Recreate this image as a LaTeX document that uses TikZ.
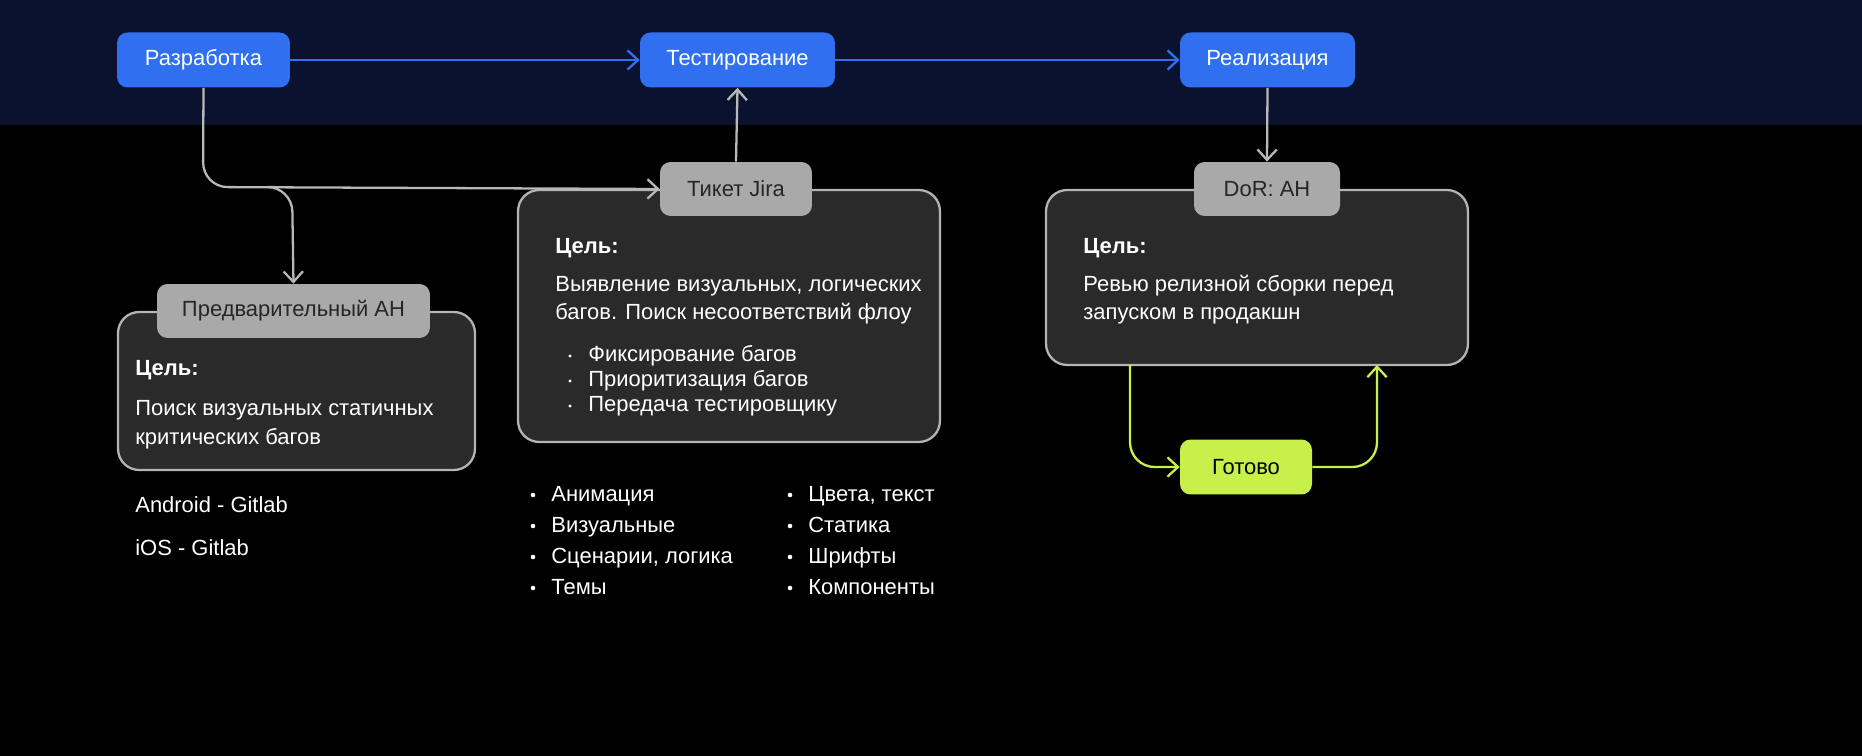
\documentclass[tikz,border=0pt]{standalone}
\usepackage{fontspec}
\setmainfont{Liberation Sans}
\usetikzlibrary{arrows.meta}
\definecolor{navy}{HTML}{0B1230}
\definecolor{blu}{HTML}{2F6FF0}
\definecolor{boxf}{HTML}{2A2A2A}
\definecolor{boxs}{HTML}{B4B4B4}
\definecolor{tab}{HTML}{A9A9A9}
\definecolor{lime}{HTML}{C8F04A}
\definecolor{gline}{HTML}{B8B8B8}
\begin{document}
\begin{tikzpicture}[x=0.02cm,y=-0.02cm,
  txt/.style={font=\fontsize{12.5}{15}\selectfont,text=white,inner sep=0pt,anchor=base west},
  bld/.style={txt,font=\fontsize{12.5}{15}\selectfont\bfseries},
  blue/.style={fill=blu,rounded corners=6pt,text=white,font=\fontsize{12.5}{15}\selectfont,minimum height=1.1cm},
  tabn/.style={fill=tab,rounded corners=6pt,text=black!85,font=\fontsize{12.5}{15}\selectfont,minimum height=1.08cm},
  box/.style={fill=boxf,draw=boxs,line width=1.3pt,rounded corners=12pt},
  bar/.style={blu,line width=1.3pt,-{Straight Barb[length=6pt,width=11pt]}},
  gar/.style={gline,line width=1.3pt,rounded corners=14pt,-{Straight Barb[length=6pt,width=11pt]}},
  lar/.style={lime,line width=1.3pt,rounded corners=14pt,-{Straight Barb[length=6pt,width=11pt]}},
  bul/.style={txt,text=white}]
\fill[black] (0,0) rectangle (1862,756);
\fill[navy] (0,0) rectangle (1862,125);
\useasboundingbox (0,0) rectangle (1862,756);
% top nodes
\node[blue,minimum width=3.46cm] (razr) at (203.5,60) {Разработка};
\node[blue,minimum width=3.9cm] (test) at (737.5,60) {Тестирование};
\node[blue,minimum width=3.5cm] (real) at (1267.5,60) {Реализация};
\draw[bar] (razr.east) -- (test.west);
\draw[bar] (test.east) -- (real.west);
% boxes
\node[box,minimum width=7.14cm,minimum height=3.16cm] (b1) at (296.5,391) {};
\node[box,minimum width=8.44cm,minimum height=5.04cm] (b2) at (729,316) {};
\node[box,minimum width=8.44cm,minimum height=3.5cm] (b3) at (1257,277.5) {};
\node[tabn,minimum width=5.46cm] (t1) at (293.5,311) {Предварительный АН};
\node[tabn,minimum width=3.04cm] (t2) at (736,189) {Тикет Jira};
\node[tabn,minimum width=2.92cm] (t3) at (1267,189) {DoR:\ АН};
\node[fill=lime,rounded corners=6pt,text=black,font=\fontsize{12.5}{15}\selectfont,minimum width=2.64cm,minimum height=1.1cm] (done) at (1246,467) {Готово};
% grey connectors
\coordinate (j1) at (203,187);
\coordinate (j2) at (292,187);
\draw[gar] (razr.south) -- (j1) -- (t2.west);
\draw[gar] (275,187) -- (j2) -- (t1.north);
\draw[gline,line width=1.3pt,-{Straight Barb[length=6pt,width=11pt]}] (t2.north) -- (test.south);
\draw[gline,line width=1.3pt,-{Straight Barb[length=6pt,width=11pt]}] (real.south) -- (t3.north);
% lime connectors
\coordinate (l1) at (1130,467);
\coordinate (l2) at (1377,467);
\draw[lar] (1130,365) -- (l1) -- (done.west);
\draw[lar] (done.east) -- (l2) -- (1377,365);
% texts box1
\node[bld] (c1) at (135,376) {Цель:};
\node[txt] (p1) at (135,416) {Поиск визуальных статичных};
\node[txt] (p2) at (135,445) {критических багов};
\node[txt] (a1) at (135,512) {Android - Gitlab};
\node[txt] (a2) at (135,555) {iOS - Gitlab};
% box2
\node[bld] (c2) at (555,254) {Цель:};
\node[txt] (q1) at (555,292) {Выявление визуальных, логических};
\node[txt] (q2) at (555,320) {багов. Поиск несоответствий флоу};
\foreach \t [count=\i] in {Фиксирование багов,Приоритизация багов,Передача тестировщику}{
  \node[txt] (r\i) at (588,{337+25*\i}) {\t};
  \fill[white] (570,{331+25*\i}) circle (1.7);
}
% box3
\node[bld] (c3) at (1083,254) {Цель:};
\node[txt] (s1) at (1083,292) {Ревью релизной сборки перед};
\node[txt] (s2) at (1083,320) {запуском в продакшн};
% lists below
\foreach \t [count=\i] in {Анимация,Визуальные,{Сценарии, логика},Темы}{
  \node[txt] (u\i) at (551,{470+31*\i}) {\t};
  \fill[white] (533,{464+31*\i}) circle (2.3);
}
\foreach \t [count=\i] in {{Цвета, текст},Статика,Шрифты,Компоненты}{
  \node[txt] (v\i) at (808,{470+31*\i}) {\t};
  \fill[white] (790,{464+31*\i}) circle (2.3);
}
\end{tikzpicture}
\end{document}
